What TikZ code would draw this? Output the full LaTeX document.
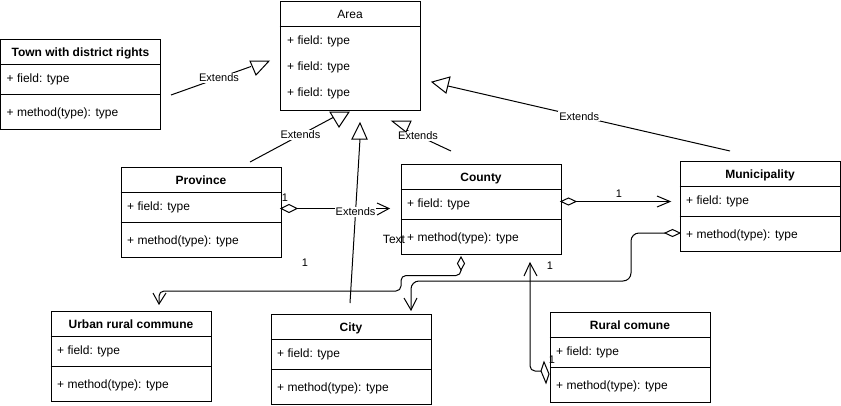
\documentclass[tikz,border=0pt]{standalone}
\usepackage{fontspec}
\setmainfont{Liberation Sans}
\usetikzlibrary{calc}

\tikzset{
  classbox/.style={draw, line width=1pt, minimum width=160pt, minimum height=90pt, inner sep=0pt},
  areabox/.style={draw, line width=1pt, minimum width=140pt, minimum height=109pt, inner sep=0pt},
  sepline/.style={line width=1pt},
  ttl/.style={font=\fontsize{12}{14}\selectfont\bfseries, inner sep=0pt, anchor=base},
  plainttl/.style={font=\fontsize{12}{14}\selectfont, inner sep=0pt, anchor=base},
  member/.style={font=\fontsize{12}{14}\selectfont, anchor=base west, inner sep=0pt},
  lbl/.style={font=\fontsize{11}{13}\selectfont, inner sep=1pt, fill=white},
  num/.style={font=\fontsize{11}{13}\selectfont, inner sep=0pt, anchor=base},
  conn/.style={line width=1pt},
  tri/.style={draw, fill=white, line width=1pt, line join=miter},
  dia/.style={draw, fill=white, line width=1pt, line join=miter},
  openhead/.style={line width=1pt, line join=miter}
}

\newcommand\umlclass[4]{%
  \node[classbox] (#1) at ({#2+80},{#3+45}) {};
  \draw[sepline] ($(#1.north west)+(0,26)$) -- ($(#1.north east)+(0,26)$);
  \draw[sepline] ($(#1.north west)+(0,56)$) -- ($(#1.north east)+(0,56)$);
  \node[ttl] (#1-t) at ({#2+80},{#3+17.5}) {#4};
  \node[member] (#1-f) at ({#2+6},{#3+43.5}) {+ field: type};
  \node[member] (#1-m) at ({#2+6},{#3+77.5}) {+ method(type): type};
}

\begin{document}
\begin{tikzpicture}[x=1pt, y=-1pt]
\useasboundingbox (0,0) rectangle (841,405);

% ---- Area ----
\node[areabox] (area) at (350,55.5) {};
\draw[sepline] ($(area.north west)+(0,26)$) -- ($(area.north east)+(0,26)$);
\node[plainttl] (area-t) at (350,18.5) {Area};
\node[member] (area-f1) at (287,44.5) {+ field: type};
\node[member] (area-f2) at (287,70.5) {+ field: type};
\node[member] (area-f3) at (287,96.5) {+ field: type};

% ---- classes ----
\umlclass{town}{0.5}{39}{Town with district rights}
\umlclass{prov}{121}{167}{Province}
\umlclass{county}{401}{164}{County}
\umlclass{muni}{680}{161}{Municipality}
\umlclass{urban}{51}{311}{Urban rural commune}
\umlclass{city}{271}{314}{City}
\umlclass{rural}{550}{312}{Rural comune}

% ---- Extends: Town -> Area ----
\coordinate (e1a) at (171,95);
\coordinate (e1b) at (251,66.5);
\draw[conn] (e1a) -- (e1b) node[lbl, pos=0.6] (e1l) {Extends};
\draw[tri] (250,61) -- (269,61) -- (256,75) -- cycle;

% ---- Extends: Province -> Area ----
\coordinate (e2a) at (250,162);
\coordinate (e2b) at (334,117);
\draw[conn] (e2a) -- (e2b) node[lbl, pos=0.6] (e2l) {Extends};
\draw[tri] (330,112) -- (349,112) -- (339,127) -- cycle;

% ---- Extends: City -> Area ----
\coordinate (e3a) at (350,303);
\coordinate (e3b) at (360,139);
\draw[tri] (352,139) -- (367,139) -- (360,123) -- cycle;

% ---- Extends: County -> Area ----
\coordinate (e4a) at (451,151);
\coordinate (e4b) at (404,129);
\draw[conn] (e4a) -- (e4b) node[lbl, pos=0.7] (e4l) {Extends};
\draw[tri] (392,121) -- (411,121) -- (406,132) -- cycle;

% ---- Extends: Municipality -> Area ----
\coordinate (e5a) at (730,151);
\coordinate (e5b) at (448,86);
\draw[conn] (e5a) -- (e5b) node[lbl, pos=0.535] (e5l) {Extends};
\draw[tri] (432,82) -- (450,77) -- (446,93) -- cycle;

% ---- Province <>-> County ----
\coordinate (a1a) at (297,208.5);
\coordinate (a1b) at (389,208.5);
\draw[conn] (a1a) -- (a1b);
\draw[dia] (281,208.5) -- (289,204.5) -- (297,208.5) -- (289,212.5) -- cycle;
\draw[openhead] (377,203) -- (a1b) -- (377,215);
\node[num] (n1) at (285,201) {1};

% City -> Area line drawn after so its label sits over the aggregation line
\draw[conn] (e3a) -- (e3b) node[lbl, pos=0.555] (e3l) {Extends};

% ---- County <>-> Municipality ----
\coordinate (a2a) at (576,201.5);
\coordinate (a2b) at (670,201.5);
\draw[conn] (a2a) -- (a2b);
\draw[dia] (561,201.5) -- (568.5,198) -- (576,201.5) -- (568.5,205) -- cycle;
\draw[openhead] (657,196) -- (a2b) -- (657,207);
\node[num] (n2) at (619,197) {1};

% ---- Municipality <>-> City ----
\coordinate (a3a) at (665,233);
\coordinate (a3b) at (411,310);
\draw[conn, rounded corners=8pt] (a3a) -- (631,233) -- (631,281) -- (411,281) -- (a3b);
\draw[dia] (665,233) -- (672.5,229.5) -- (680,233) -- (672.5,236.5) -- cycle;
\draw[openhead] (404,298) -- (a3b) -- (417,298);

% ---- County <>-> Urban rural commune ----
\coordinate (a4a) at (461,270);
\coordinate (a4b) at (159,304);
\draw[conn, rounded corners=5pt] (a4a) -- (461,275.5) -- (401,275.5) -- (401,291) -- (159,291) -- (a4b);
\draw[dia] (461,257) -- (464.5,263.5) -- (461,270) -- (457.5,263.5) -- cycle;
\draw[openhead] (153,293) -- (a4b) -- (166,293);
\node[num] (n3) at (305,266) {1};

% ---- Rural comune <>-> County ----
\coordinate (a5a) at (541,371);
\coordinate (a5b) at (530,263);
\draw[conn, rounded corners=5pt] (a5a) -- (530,371) -- (a5b);
\draw[dia] (544,362) -- (549,374) -- (546,383) -- (541,371) -- cycle;
\draw[openhead] (524,276) -- (a5b) -- (537,276);
\node[num] (n4) at (550,269) {1};
\node[num] (n5) at (552,363) {1};

% ---- stray text ----
\node[plainttl] (txt) at (394,243.5) {Text};
\end{tikzpicture}
\end{document}
